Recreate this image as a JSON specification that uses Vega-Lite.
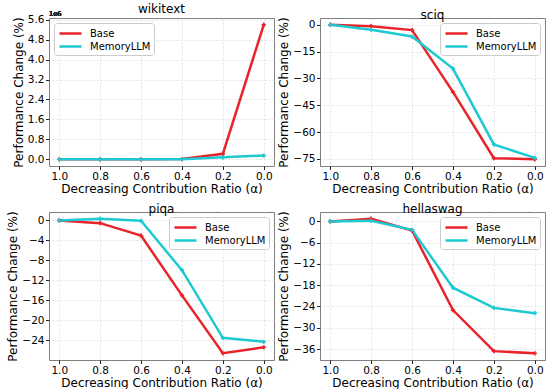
{
  "$schema": "https://vega.github.io/schema/vega-lite/v6.json",
  "padding": {"left": 6, "top": 2, "right": 0, "bottom": 0},
  "background": "white",
  "datasets": {
    "perf": [
      {"dataset": "wikitext", "alpha": 1.0, "method": "Base", "value": 0},
      {"dataset": "wikitext", "alpha": 0.8, "method": "Base", "value": 0},
      {"dataset": "wikitext", "alpha": 0.6, "method": "Base", "value": 0},
      {"dataset": "wikitext", "alpha": 0.4, "method": "Base", "value": 0.01},
      {"dataset": "wikitext", "alpha": 0.2, "method": "Base", "value": 0.22},
      {"dataset": "wikitext", "alpha": 0.0, "method": "Base", "value": 5.4},
      {"dataset": "wikitext", "alpha": 1.0, "method": "MemoryLLM", "value": 0},
      {"dataset": "wikitext", "alpha": 0.8, "method": "MemoryLLM", "value": 0},
      {"dataset": "wikitext", "alpha": 0.6, "method": "MemoryLLM", "value": 0},
      {"dataset": "wikitext", "alpha": 0.4, "method": "MemoryLLM", "value": 0.005},
      {"dataset": "wikitext", "alpha": 0.2, "method": "MemoryLLM", "value": 0.08},
      {"dataset": "wikitext", "alpha": 0.0, "method": "MemoryLLM", "value": 0.15},
      {"dataset": "sciq", "alpha": 1.0, "method": "Base", "value": 0},
      {"dataset": "sciq", "alpha": 0.8, "method": "Base", "value": -0.8},
      {"dataset": "sciq", "alpha": 0.6, "method": "Base", "value": -3.0},
      {"dataset": "sciq", "alpha": 0.4, "method": "Base", "value": -37.5},
      {"dataset": "sciq", "alpha": 0.2, "method": "Base", "value": -74.6},
      {"dataset": "sciq", "alpha": 0.0, "method": "Base", "value": -75.2},
      {"dataset": "sciq", "alpha": 1.0, "method": "MemoryLLM", "value": 0},
      {"dataset": "sciq", "alpha": 0.8, "method": "MemoryLLM", "value": -2.8},
      {"dataset": "sciq", "alpha": 0.6, "method": "MemoryLLM", "value": -6.6},
      {"dataset": "sciq", "alpha": 0.4, "method": "MemoryLLM", "value": -24.5},
      {"dataset": "sciq", "alpha": 0.2, "method": "MemoryLLM", "value": -66.9},
      {"dataset": "sciq", "alpha": 0.0, "method": "MemoryLLM", "value": -74.4},
      {"dataset": "piqa", "alpha": 1.0, "method": "Base", "value": 0},
      {"dataset": "piqa", "alpha": 0.8, "method": "Base", "value": -0.54},
      {"dataset": "piqa", "alpha": 0.6, "method": "Base", "value": -3.05},
      {"dataset": "piqa", "alpha": 0.4, "method": "Base", "value": -15.0},
      {"dataset": "piqa", "alpha": 0.2, "method": "Base", "value": -26.6},
      {"dataset": "piqa", "alpha": 0.0, "method": "Base", "value": -25.4},
      {"dataset": "piqa", "alpha": 1.0, "method": "MemoryLLM", "value": 0},
      {"dataset": "piqa", "alpha": 0.8, "method": "MemoryLLM", "value": 0.34},
      {"dataset": "piqa", "alpha": 0.6, "method": "MemoryLLM", "value": -0.07},
      {"dataset": "piqa", "alpha": 0.4, "method": "MemoryLLM", "value": -9.97},
      {"dataset": "piqa", "alpha": 0.2, "method": "MemoryLLM", "value": -23.5},
      {"dataset": "piqa", "alpha": 0.0, "method": "MemoryLLM", "value": -24.3},
      {"dataset": "hellaswag", "alpha": 1.0, "method": "Base", "value": 0},
      {"dataset": "hellaswag", "alpha": 0.8, "method": "Base", "value": 0.76},
      {"dataset": "hellaswag", "alpha": 0.6, "method": "Base", "value": -2.57},
      {"dataset": "hellaswag", "alpha": 0.4, "method": "Base", "value": -25.0},
      {"dataset": "hellaswag", "alpha": 0.2, "method": "Base", "value": -36.6},
      {"dataset": "hellaswag", "alpha": 0.0, "method": "Base", "value": -37.2},
      {"dataset": "hellaswag", "alpha": 1.0, "method": "MemoryLLM", "value": 0},
      {"dataset": "hellaswag", "alpha": 0.8, "method": "MemoryLLM", "value": 0.19},
      {"dataset": "hellaswag", "alpha": 0.6, "method": "MemoryLLM", "value": -2.38},
      {"dataset": "hellaswag", "alpha": 0.4, "method": "MemoryLLM", "value": -18.7},
      {"dataset": "hellaswag", "alpha": 0.2, "method": "MemoryLLM", "value": -24.4},
      {"dataset": "hellaswag", "alpha": 0.0, "method": "MemoryLLM", "value": -25.9}
    ]
  },
  "columns": 2,
  "spacing": {"row": 46, "column": 46},
  "bounds": "flush",
  "resolve": {"scale": {"color": "independent", "y": "independent", "x": "independent"}, "legend": {"color": "independent"}},
  "concat": [
    {
      "width": 225, "height": 148,
      "title": {"text": "wikitext"},
      "data": {"name": "perf"},
      "transform": [{"filter": "datum.dataset === 'wikitext'"}],
      "layer": [
        {
          "mark": {"type": "line", "strokeWidth": 2.5, "point": {"shape": "cross", "size": 18, "filled": true}},
          "encoding": {
            "x": {"field": "alpha", "type": "quantitative", "scale": {"domain": [-0.05, 1.05], "reverse": true, "nice": false, "zero": false}, "axis": {"values": [1.0, 0.8, 0.6, 0.4, 0.2, 0.0], "format": ".1f", "title": "Decreasing Contribution Ratio (α)"}},
            "y": {"field": "value", "type": "quantitative", "scale": {"domain": [-0.27, 5.67], "nice": false, "zero": false}, "axis": {"values": [0, 0.8, 1.6, 2.4, 3.2, 4.0, 4.8, 5.6], "format": ".1f", "title": "Performance Change (%)"}},
            "color": {"field": "method", "type": "nominal", "scale": {"domain": ["Base", "MemoryLLM"], "range": ["#e8232a", "#1ec9d2"]}, "legend": {"orient": "top-left"}}
          }
        },
        {
          "mark": {"type": "text", "text": "1e6", "fontSize": 6.5, "align": "left", "baseline": "bottom", "dy": -1, "color": "#222"},
          "encoding": {
            "x": {"datum": 1.05, "type": "quantitative", "scale": {"domain": [-0.05, 1.05], "reverse": true, "nice": false, "zero": false}, "axis": {"values": [1.0, 0.8, 0.6, 0.4, 0.2, 0.0], "format": ".1f", "title": "Decreasing Contribution Ratio (α)"}},
            "y": {"datum": 5.67, "type": "quantitative", "scale": {"domain": [-0.27, 5.67], "nice": false, "zero": false}, "axis": {"values": [0, 0.8, 1.6, 2.4, 3.2, 4.0, 4.8, 5.6], "format": ".1f", "title": "Performance Change (%)"}}
          }
        }
      ]
    },
    {
      "width": 225, "height": 148,
      "title": {"text": "sciq"},
      "data": {"name": "perf"},
      "transform": [{"filter": "datum.dataset === 'sciq'"}],
      "mark": {"type": "line", "strokeWidth": 2.5, "point": {"shape": "cross", "size": 18, "filled": true}},
      "encoding": {
        "x": {"field": "alpha", "type": "quantitative", "scale": {"domain": [-0.05, 1.05], "reverse": true, "nice": false, "zero": false}, "axis": {"values": [1.0, 0.8, 0.6, 0.4, 0.2, 0.0], "format": ".1f", "title": "Decreasing Contribution Ratio (α)"}},
        "y": {"field": "value", "type": "quantitative", "scale": {"domain": [-78.96, 3.76], "nice": false, "zero": false}, "axis": {"values": [0, -15, -30, -45, -60, -75], "format": "d", "title": "Performance Change (%)"}},
        "color": {"field": "method", "type": "nominal", "scale": {"domain": ["Base", "MemoryLLM"], "range": ["#e8232a", "#1ec9d2"]}, "legend": {"orient": "top-right"}}
      }
    },
    {
      "width": 225, "height": 148,
      "title": {"text": "piqa"},
      "data": {"name": "perf"},
      "transform": [{"filter": "datum.dataset === 'piqa'"}],
      "mark": {"type": "line", "strokeWidth": 2.5, "point": {"shape": "cross", "size": 18, "filled": true}},
      "encoding": {
        "x": {"field": "alpha", "type": "quantitative", "scale": {"domain": [-0.05, 1.05], "reverse": true, "nice": false, "zero": false}, "axis": {"values": [1.0, 0.8, 0.6, 0.4, 0.2, 0.0], "format": ".1f", "title": "Decreasing Contribution Ratio (α)"}},
        "y": {"field": "value", "type": "quantitative", "scale": {"domain": [-27.95, 1.69], "nice": false, "zero": false}, "axis": {"values": [0, -4, -8, -12, -16, -20, -24], "format": "d", "title": "Performance Change (%)"}},
        "color": {"field": "method", "type": "nominal", "scale": {"domain": ["Base", "MemoryLLM"], "range": ["#e8232a", "#1ec9d2"]}, "legend": {"orient": "top-right"}}
      }
    },
    {
      "width": 225, "height": 148,
      "title": {"text": "hellaswag"},
      "data": {"name": "perf"},
      "transform": [{"filter": "datum.dataset === 'hellaswag'"}],
      "mark": {"type": "line", "strokeWidth": 2.5, "point": {"shape": "cross", "size": 18, "filled": true}},
      "encoding": {
        "x": {"field": "alpha", "type": "quantitative", "scale": {"domain": [-0.05, 1.05], "reverse": true, "nice": false, "zero": false}, "axis": {"values": [1.0, 0.8, 0.6, 0.4, 0.2, 0.0], "format": ".1f", "title": "Decreasing Contribution Ratio (α)"}},
        "y": {"field": "value", "type": "quantitative", "scale": {"domain": [-39.1, 2.66], "nice": false, "zero": false}, "axis": {"values": [0, -6, -12, -18, -24, -30, -36], "format": "d", "title": "Performance Change (%)"}},
        "color": {"field": "method", "type": "nominal", "scale": {"domain": ["Base", "MemoryLLM"], "range": ["#e8232a", "#1ec9d2"]}, "legend": {"orient": "top-right"}}
      }
    }
  ],
  "config": {
    "font": "DejaVu Sans",
    "view": {"stroke": "#7f7f7f", "strokeWidth": 1},
    "title": {"fontSize": 12, "fontWeight": "normal", "font": "DejaVu Sans", "offset": -5, "color": "#000"},
    "axis": {
      "domain": false,
      "grid": true,
      "gridColor": "#d9d9d9",
      "gridDash": [2, 2],
      "gridWidth": 0.8,
      "ticks": true,
      "tickColor": "#222",
      "tickSize": 3.5,
      "labelOverlap": false,
      "labelFont": "DejaVu Sans",
      "labelFontSize": 10.5,
      "labelColor": "#000",
      "labelPadding": 1.5,
      "titleFont": "DejaVu Sans",
      "titleFontSize": 12,
      "titleFontWeight": "normal",
      "titleColor": "#000",
      "titlePadding": 2
    },
    "axisX": {"labelFlush": false},
    "axisY": {"labelFlush": false},
    "legend": {
      "title": null,
      "offset": 5,
      "padding": 3,
      "fillColor": "white",
      "strokeColor": "#cccccc",
      "cornerRadius": 3,
      "labelFont": "DejaVu Sans",
      "labelFontSize": 10,
      "labelColor": "#000",
      "symbolType": "M-1.8,0L1.8,0",
      "symbolSize": 150,
      "symbolStrokeWidth": 2.5,
      "symbolOffset": 6,
      "rowPadding": 0,
      "labelOffset": 12
    }
  }
}
